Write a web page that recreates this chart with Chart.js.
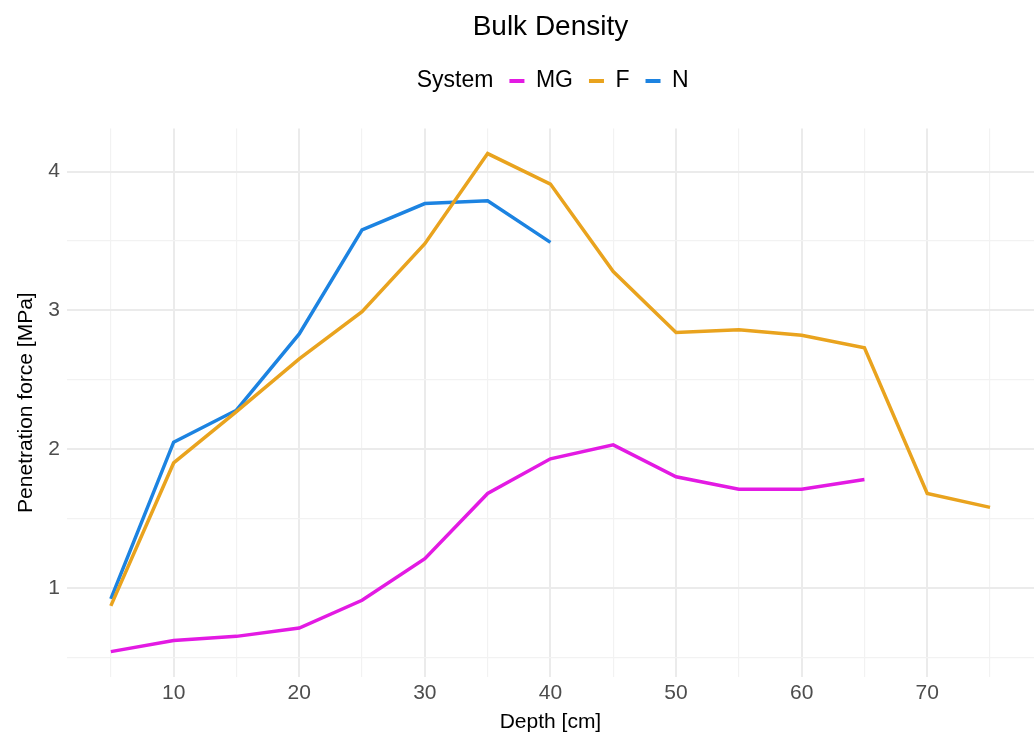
<!DOCTYPE html>
<html>
<head>
<meta charset="utf-8">
<title>Bulk Density</title>
<script src="https://cdn.jsdelivr.net/npm/chart.js@4.4.0/dist/chart.umd.min.js"></script>
<style>
  body { margin: 0; background: #fff; }
  #chart { display: block; }
</style>
</head>
<body>
<canvas id="chart" width="1034" height="742"></canvas>
<script>
// depth steps (cm) and penetration force (MPa) per system
var depthMG = [5, 10, 15, 20, 25, 30, 35, 40, 45, 50, 55, 60, 65];
var forceMG = [0.54, 0.62, 0.65, 0.71, 0.91, 1.21, 1.68, 1.93, 2.03, 1.80, 1.71, 1.71, 1.78];

var depthF = [5, 10, 15, 20, 25, 30, 35, 40, 45, 50, 55, 60, 65, 70, 75];
var forceF = [0.87, 1.90, 2.27, 2.65, 2.99, 3.48, 4.13, 3.91, 3.28, 2.84, 2.86, 2.82, 2.73, 1.68, 1.58];

var depthN = [5, 10, 15, 20, 25, 30, 35, 40];
var forceN = [0.92, 2.05, 2.28, 2.83, 3.58, 3.77, 3.79, 3.49];

var xTicks = [5, 10, 15, 20, 25, 30, 35, 40, 45, 50, 55, 60, 65, 70, 75];
var yTicks = [0.5, 1, 1.5, 2, 2.5, 3, 3.5, 4];

function pts(xs, ys) {
  return xs.map(function(x, i){ return {x: x, y: ys[i]}; });
}

var FONT = "'Liberation Sans', Arial, sans-serif";
var BLANK = "rgba(0,0,0,0)";

// extra space under the legend, and nudge it left to offset the blank "System" box
var legendTweak = {
  id: 'legendTweak',
  beforeInit: function(chart) {
    var lg = chart.legend;
    if (!lg) return;
    var fit = lg.fit, draw = lg.draw;
    lg.fit = function() {
      fit.apply(this, arguments);
      this.height += 26;
    };
    lg.draw = function() {
      var ctx = this.ctx;
      ctx.save();
      ctx.translate(-11, 0);
      draw.apply(this, arguments);
      ctx.restore();
    };
  }
};

new Chart(document.getElementById("chart").getContext("2d"), {
  type: 'line',
  data: {
    datasets: [
      { label: "MG", data: pts(depthMG, forceMG), borderColor: "#e31ae3", backgroundColor: "#e31ae3" },
      { label: "F",  data: pts(depthF, forceF),   borderColor: "#e9a31e", backgroundColor: "#e9a31e" },
      { label: "N",  data: pts(depthN, forceN),   borderColor: "#1c83e1", backgroundColor: "#1c83e1" }
    ]
  },
  plugins: [legendTweak],
  options: {
    responsive: false,
    animation: false,
    elements: {
      line: { borderWidth: 3.5, tension: 0 },
      point: { radius: 0, hoverRadius: 0 }
    },
    layout: { padding: { left: 14, right: 0, top: 7, bottom: 7 } },
    plugins: {
      title: {
        display: true,
        text: "Bulk Density",
        fullSize: false,
        color: "#000",
        font: { family: FONT, size: 28, weight: 'normal' },
        padding: { top: 3, bottom: 10 }
      },
      legend: {
        display: true,
        fullSize: false,
        onClick: null,
        labels: {
          color: "#000",
          font: { family: FONT, size: 23 },
          boxWidth: 15,
          boxHeight: 4,
          padding: 16,
          generateLabels: function(chart) {
            var items = Chart.defaults.plugins.legend.labels.generateLabels(chart);
            items.forEach(function(it){ it.lineWidth = 0; });
            // legend title "System" sits inline before the keys
            items.unshift({ text: "System", fillStyle: BLANK, strokeStyle: BLANK, lineWidth: 0, hidden: false, datasetIndex: -1 });
            return items;
          }
        }
      },
      tooltip: { enabled: false }
    },
    scales: {
      x: {
        type: 'linear',
        min: 1.5,
        max: 78.5,
        afterBuildTicks: function(scale) {
          scale.ticks = xTicks.map(function(v){ return {value: v}; });
        },
        ticks: {
          color: "#4d4d4d",
          font: { family: FONT, size: 21 },
          padding: 4,
          maxRotation: 0,
          autoSkip: false,
          callback: function(v){ return v % 10 === 0 ? String(v) : ""; }
        },
        grid: {
          drawTicks: false,
          color: function(c){ return c.tick && c.tick.value % 10 === 0 ? "#ebebeb" : "#f2f2f2"; },
          lineWidth: function(c){ return c.tick && c.tick.value % 10 === 0 ? 2 : 1.2; }
        },
        border: { display: false },
        title: {
          display: true,
          text: "Depth [cm]",
          color: "#000",
          font: { family: FONT, size: 21 },
          padding: { top: 0, bottom: 0 }
        }
      },
      y: {
        type: 'linear',
        min: 0.36,
        max: 4.31,
        afterBuildTicks: function(scale) {
          scale.ticks = yTicks.map(function(v){ return {value: v}; });
        },
        ticks: {
          color: "#4d4d4d",
          font: { family: FONT, size: 21 },
          padding: 7,
          autoSkip: false,
          callback: function(v){ return Number.isInteger(v) ? String(v) : ""; }
        },
        grid: {
          drawTicks: false,
          color: function(c){ return c.tick && Number.isInteger(c.tick.value) ? "#ebebeb" : "#f2f2f2"; },
          lineWidth: function(c){ return c.tick && Number.isInteger(c.tick.value) ? 2 : 1.2; }
        },
        border: { display: false },
        title: {
          display: true,
          text: "Penetration force [MPa]",
          color: "#000",
          font: { family: FONT, size: 21 },
          padding: { top: 0, bottom: 2 }
        }
      }
    }
  }
});
</script>
</body>
</html>
